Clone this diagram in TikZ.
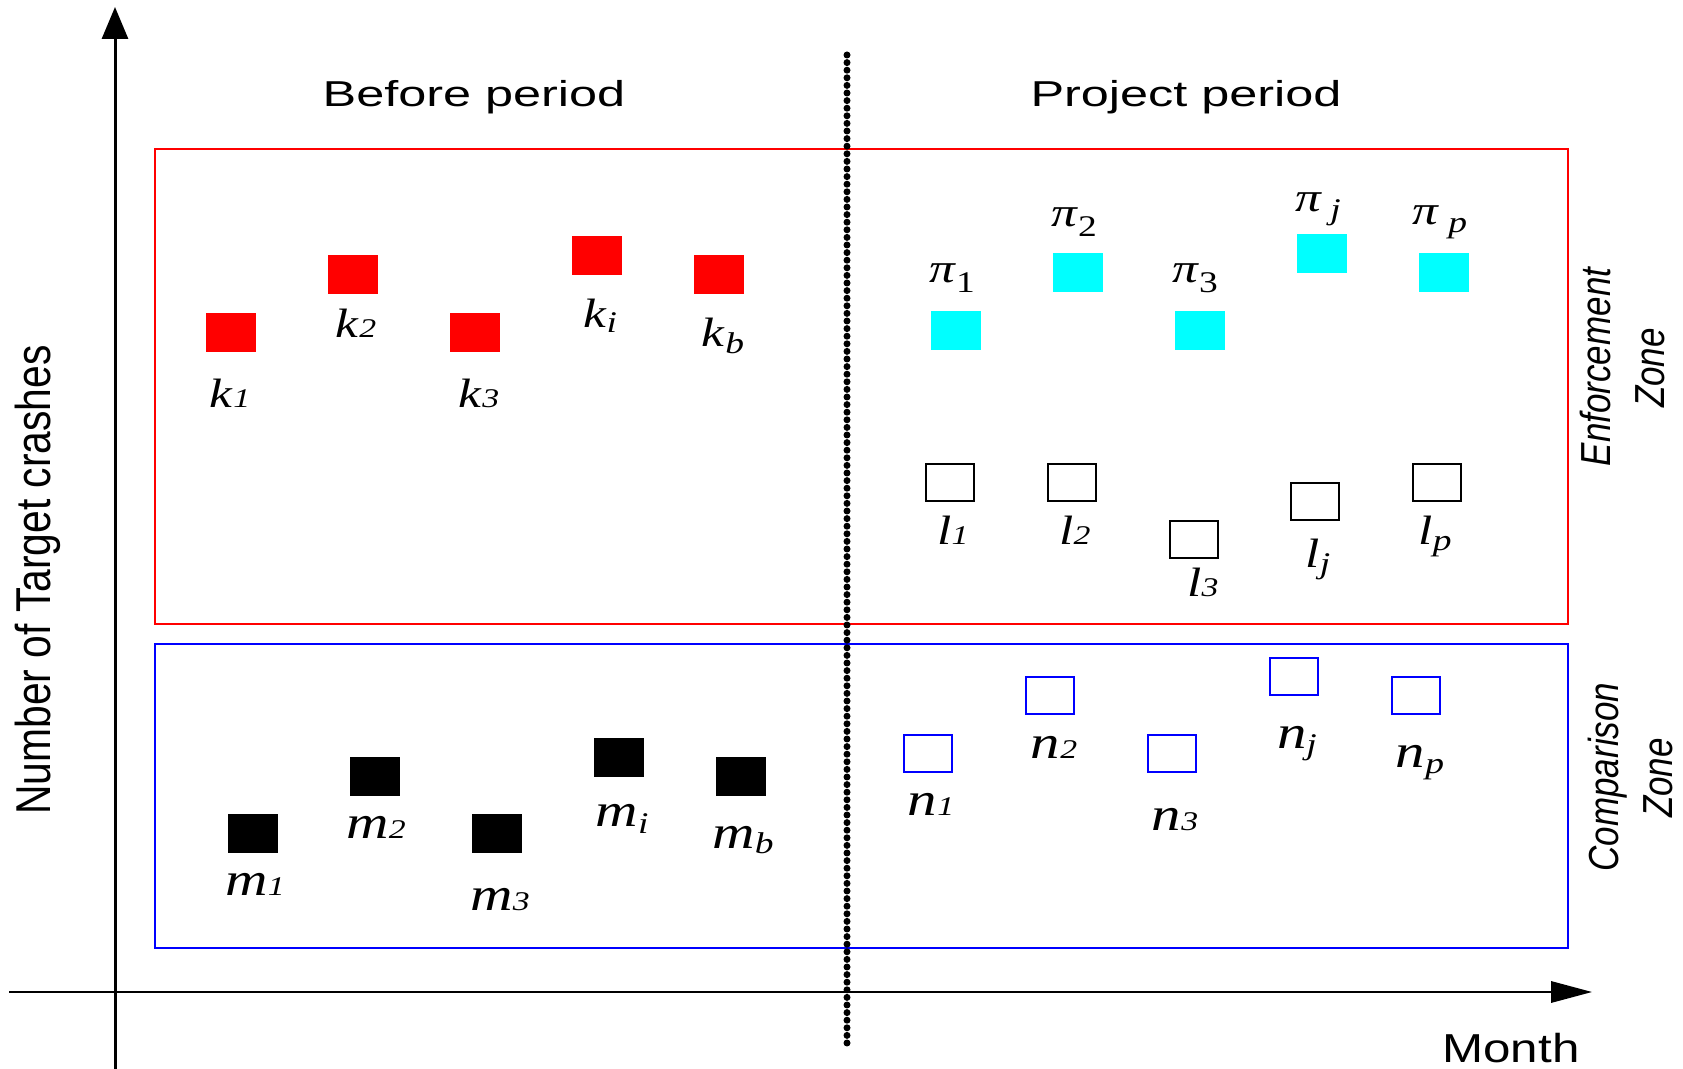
\documentclass[tikz,border=0pt]{standalone}
\usepackage{fontspec}
\setmainfont{Liberation Serif}
\setsansfont{Liberation Sans}
\usepackage{graphicx}
\usetikzlibrary{arrows.meta}
\definecolor{redbox}{RGB}{255,0,0}
\definecolor{bluebox}{RGB}{0,0,255}
\definecolor{cyanbox}{RGB}{0,255,255}
\newcommand\bsub[1]{{\fontsize{13.5}{14}\selectfont\textit{#1}}}
\newcommand\lsub[2]{\raisebox{-#2}{\fontsize{15}{16}\selectfont\textit{#1}}}
\newcommand\psub[1]{\raisebox{-5pt}{\fontsize{15}{16}\selectfont #1}}
\newcommand\wlab[2]{\scalebox{1.25}[1]{\textit{#1}#2}}
\newcommand\wide[2]{\scalebox{#1}[1]{#2}}
\newcommand\tall[2]{\scalebox{1}[#1]{#2}}
\begin{document}
\begin{tikzpicture}[x=0.5pt,y=-0.5pt,
  fillsq/.style={minimum width=25pt,minimum height=19.5pt,inner sep=0pt,outer sep=0pt},
  redsq/.style={fillsq,fill=redbox},
  cyansq/.style={fillsq,fill=cyanbox},
  blacksq/.style={fillsq,fill=black},
  opensq/.style={minimum width=24pt,minimum height=18.5pt,inner sep=0pt,draw=black,line width=1pt},
  bluesq/.style={opensq,draw=bluebox},
  lab/.style={anchor=base,inner sep=0pt,outer sep=0pt},
  klab/.style={lab,font=\fontsize{20.5}{24}\selectfont},
  mlab/.style={lab,font=\fontsize{23.5}{28}\selectfont},
  plab/.style={lab,font=\fontsize{20.5}{24}\selectfont},
  head/.style={lab,font=\sffamily\fontsize{18}{21}\selectfont},
  side/.style={lab,rotate=90,font=\sffamily\itshape\fontsize{17.5}{20}\selectfont},
  zonebox/.style={line width=1.1pt}
]
\useasboundingbox (0,0) rectangle (1683,1069);

% zones
\coordinate (enfNW) at (155,149);
\coordinate (enfSE) at (1568,624);
\coordinate (cmpNW) at (155,644);
\coordinate (cmpSE) at (1568,948);
\draw[zonebox,draw=redbox] (enfNW) rectangle (enfSE);
\draw[zonebox,draw=bluebox] (cmpNW) rectangle (cmpSE);

% axes
\coordinate (yB) at (115,1069);
\coordinate (yT) at (115,7);
\coordinate (xL) at (9,992);
\coordinate (xR) at (1592,992);
\draw[line width=1.5pt,-{Triangle[length=16pt,width=13pt]}] (yB) -- (yT);
\draw[line width=1pt,-{Triangle[length=20.5pt,width=10.7pt]}] (xL) -- (xR);

% divider
\coordinate (dT) at (847,55);
\coordinate (dB) at (847,1046);
\draw[line width=3.5pt,line cap=round,dash pattern=on 0pt off 3.8pt] (dT) -- (dB);

% headings
\node[head] (before) at (474,107) {\wide{1.4}{Before period}};
\node[head] (project) at (1186,107) {\wide{1.4}{Project period}};
\node[lab,font=\sffamily\fontsize{20.2}{24}\selectfont] (month) at (1511,1062) {\wide{1.22}{Month}};
\node[lab,rotate=90,font=\sffamily\fontsize{20.4}{24}\selectfont] (ylab) at (50,580) {\tall{1.2}{Number of Target crashes}};
\node[side] (enf1) at (1610,367) {\tall{1.2}{Enforcement}};
\node[side] (enf2) at (1664,368) {\tall{1.2}{Zone}};
\node[side] (cmp1) at (1618,777) {\tall{1.2}{Comparison}};
\node[side] (cmp2) at (1672,778) {\tall{1.2}{Zone}};

% k squares (before, enforcement)
\node[redsq] (k1) at (231,333) {};
\node[redsq] (k2) at (353,275) {};
\node[redsq] (k3) at (475,333) {};
\node[redsq] (ki) at (597,256) {};
\node[redsq] (kb) at (719,275) {};
\node[klab] (k1l) at (230,408) {\wlab{k}{\bsub{1}}};
\node[klab] (k2l) at (356,338) {\wlab{k}{\bsub{2}}};
\node[klab] (k3l) at (479,408) {\wlab{k}{\bsub{3}}};
\node[klab] (kil) at (600,328) {\wlab{k}{\lsub{i}{2.5pt}}};
\node[klab] (kbl) at (723,347) {\wlab{k}{\lsub{b}{3.5pt}}};

% pi squares (project, enforcement)
\node[cyansq] (p1) at (956,331) {};
\node[cyansq] (p2) at (1078,273) {};
\node[cyansq] (p3) at (1200,331) {};
\node[cyansq] (pj) at (1322,254) {};
\node[cyansq] (pp) at (1444,273) {};
\node[plab] (p1l) at (952,283) {\wlab{π}{\psub{1}}};
\node[plab] (p2l) at (1074,227) {\wlab{π}{\psub{2}}};
\node[plab] (p3l) at (1195,283) {\wlab{π}{\psub{3}}};
\node[plab] (pjl) at (1318,212) {\wlab{π}{\,\lsub{j}{4pt}}};
\node[plab] (ppl) at (1440,225) {\wlab{π}{\,\lsub{p}{4pt}}};

% l squares
\node[opensq] (l1) at (950,483) {};
\node[opensq] (l2) at (1072,483) {};
\node[opensq] (l3) at (1194,540) {};
\node[opensq] (lj) at (1315,502) {};
\node[opensq] (lp) at (1437,483) {};
\node[klab] (l1l) at (953,545) {\wlab{l}{\bsub{1}}};
\node[klab] (l2l) at (1075,545) {\wlab{l}{\bsub{2}}};
\node[klab] (l3l) at (1203,597) {\wlab{l}{\bsub{3}}};
\node[klab] (ljl) at (1318,568) {\wlab{l}{\lsub{j}{3pt}}};
\node[klab] (lpl) at (1435,545) {\wlab{l}{\lsub{p}{3pt}}};

% m squares (before, comparison)
\node[blacksq] (m1) at (253,833) {};
\node[blacksq] (m2) at (375,776) {};
\node[blacksq] (m3) at (497,833) {};
\node[blacksq] (mi) at (619,757) {};
\node[blacksq] (mb) at (741,776) {};
\node[mlab] (m1l) at (255,895) {\wlab{m}{\bsub{1}}};
\node[mlab] (m2l) at (376,838) {\wlab{m}{\bsub{2}}};
\node[mlab] (m3l) at (500,910) {\wlab{m}{\bsub{3}}};
\node[mlab] (mil) at (622,827) {\wlab{m}{\lsub{i}{3pt}}};
\node[mlab] (mbl) at (743,848) {\wlab{m}{\lsub{b}{2.5pt}}};

% n squares (project, comparison)
\node[bluesq] (n1) at (928,753) {};
\node[bluesq] (n2) at (1050,696) {};
\node[bluesq] (n3) at (1172,753) {};
\node[bluesq] (nj) at (1294,677) {};
\node[bluesq] (np) at (1416,696) {};
\node[mlab] (n1l) at (931,815) {\wlab{n}{\bsub{1}}};
\node[mlab] (n2l) at (1054,758) {\wlab{n}{\bsub{2}}};
\node[mlab] (n3l) at (1175,830) {\wlab{n}{\bsub{3}}};
\node[mlab] (njl) at (1297,748) {\wlab{n}{\lsub{j}{3pt}}};
\node[mlab] (npl) at (1420,767) {\wlab{n}{\lsub{p}{3pt}}};
\end{tikzpicture}
\end{document}
